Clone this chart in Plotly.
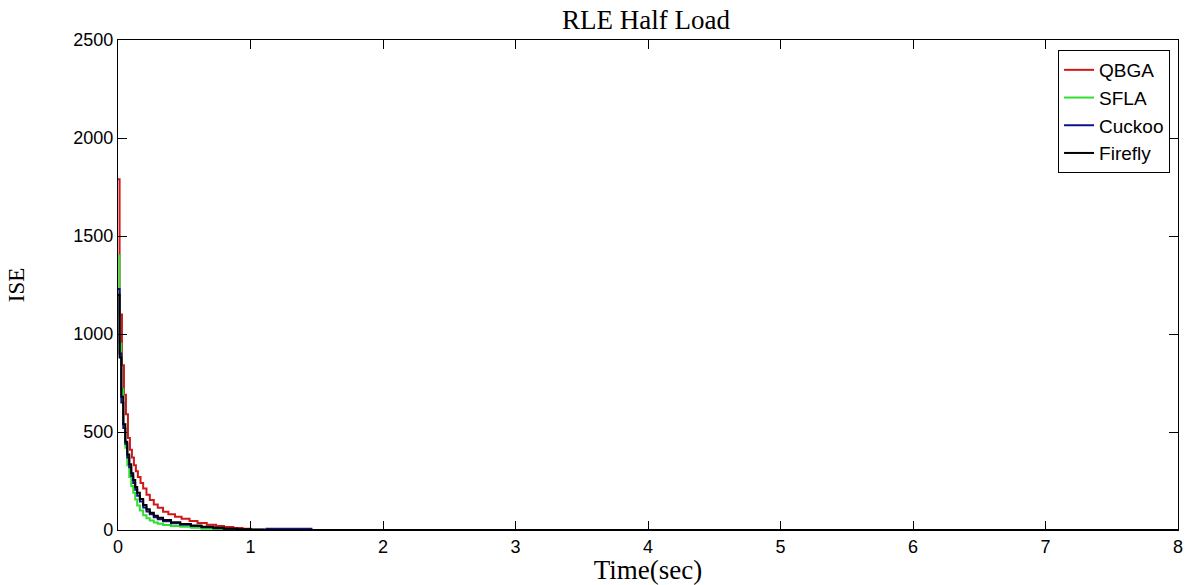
import plotly.graph_objects as go

# ---- data ----
t_qbga = [0, 0.012, 0.03, 0.045, 0.06, 0.075, 0.09, 0.105, 0.12, 0.135, 0.15, 0.17, 0.19, 0.215,
          0.24, 0.27, 0.3, 0.34, 0.38, 0.43, 0.48, 0.54, 0.6, 0.67, 0.74, 0.8, 0.87, 0.94, 1.0, 8]
v_qbga = [1790, 1100, 840, 690, 590, 470, 410, 370, 330, 300, 270, 240, 212, 180,
          153, 130, 113, 93, 80, 67, 57, 46, 36, 27, 20, 15, 10, 6, 0, 0]

t_sfla = [0, 0.012, 0.025, 0.04, 0.055, 0.07, 0.085, 0.1, 0.115, 0.13, 0.145, 0.165, 0.19, 0.215,
          0.24, 0.27, 0.3, 0.34, 0.4, 0.47, 0.55, 0.63, 0.72, 0.8, 0.86, 8]
v_sfla = [1400, 950, 720, 540, 420, 330, 270, 225, 190, 155, 125, 100, 75, 60,
          48, 38, 32, 26, 20, 16, 11, 7, 4, 2, 0, 0]

t_cuckoo = [0, 0.012, 0.025, 0.04, 0.055, 0.07, 0.085, 0.1, 0.115, 0.13, 0.145, 0.165, 0.19, 0.215,
            0.24, 0.27, 0.3, 0.34, 0.4, 0.47, 0.55, 0.63, 0.72, 0.8, 0.9, 1.0, 1.12, 1.46, 8]
v_cuckoo = [1230, 900, 650, 520, 440, 370, 320, 275, 240, 205, 175, 145, 115, 95,
            80, 65, 55, 45, 35, 27, 20, 14, 9, 6, 3, 1, 7, 0, 0]

t_firefly = [0, 0.012, 0.025, 0.04, 0.055, 0.07, 0.085, 0.1, 0.115, 0.13, 0.145, 0.165, 0.19, 0.215,
             0.24, 0.27, 0.3, 0.34, 0.4, 0.47, 0.55, 0.63, 0.72, 0.8, 0.9, 1.0, 1.1, 8]
v_firefly = [1200, 880, 680, 540, 450, 385, 335, 290, 255, 220, 190, 158, 128, 106,
             88, 73, 62, 51, 40, 31, 23, 16, 11, 7, 4, 2, 0, 0]

series_names = ["QBGA", "SFLA", "Cuckoo", "Firefly"]
series_colors = ["#d01818", "#2ee02e", "#10108c", "#000000"]

x_ticks = [0, 1, 2, 3, 4, 5, 6, 7, 8]
y_ticks = [0, 500, 1000, 1500, 2000, 2500]

fig = go.Figure()
for name, color, tt, vv in zip(series_names, series_colors,
                               [t_qbga, t_sfla, t_cuckoo, t_firefly],
                               [v_qbga, v_sfla, v_cuckoo, v_firefly]):
    fig.add_trace(go.Scatter(x=tt, y=vv, mode="lines", name=name,
                             line=dict(color=color, width=2, shape="hv")))

axis_common = dict(showline=True, linecolor="black", linewidth=1.3, mirror="ticks",
                   ticks="inside", ticklen=9, tickcolor="black", tickwidth=1.2,
                   showgrid=False, zeroline=False, automargin=False,
                   tickfont=dict(family="Liberation Sans, Arial", size=18, color="black"))

fig.update_layout(
    width=1189, height=585,
    margin=dict(l=118, r=11, t=40, b=55),
    paper_bgcolor="white", plot_bgcolor="white",
    title=dict(text="RLE Half Load", x=0.5433, xanchor="center", y=0.967, yanchor="middle",
               font=dict(family="Liberation Serif, Times New Roman", size=27, color="black")),
    xaxis=dict(range=[0, 8], tickvals=x_ticks, ticktext=[str(v) for v in x_ticks],
               title=dict(text="Time(sec)", standoff=10,
                          font=dict(family="Liberation Serif, Times New Roman", size=27, color="black")),
               **axis_common),
    yaxis=dict(range=[0, 2500], tickvals=y_ticks, ticktext=[str(v) for v in y_ticks],
               title=dict(text="ISE", standoff=42,
                          font=dict(family="Liberation Serif, Times New Roman", size=23, color="black")),
               **axis_common),
    legend=dict(x=0.9925, xanchor="right", y=0.9796, yanchor="top",
                bgcolor="white", bordercolor="black", borderwidth=1,
                font=dict(family="Liberation Sans, Arial", size=19, color="black"),
                itemwidth=30, tracegroupgap=0),
    showlegend=True,
)

fig.write_html("out.html")
